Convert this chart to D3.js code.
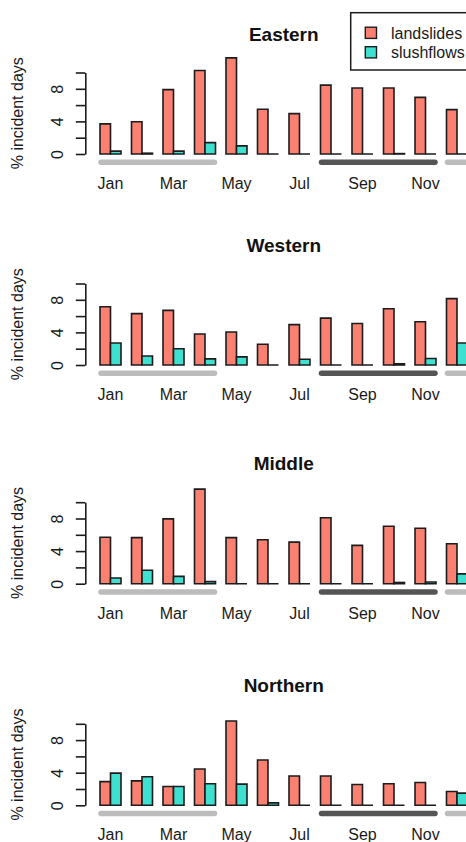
<!DOCTYPE html>
<html>
<head>
<meta charset="utf-8">
<script src="https://cdn.jsdelivr.net/npm/d3@7/dist/d3.min.js"></script>
<style>
  html, body { margin: 0; padding: 0; background: #ffffff; }
  svg { display: block; font-family: "Liberation Sans", Arial, sans-serif; }
</style>
</head>
<body>
<script>
// Monthly share of days with incidents, by region
const months = ["Jan", "Feb", "Mar", "Apr", "May", "Jun", "Jul", "Aug", "Sep", "Oct", "Nov", "Dec"];
const monthTicks = ["Jan", "Mar", "May", "Jul", "Sep", "Nov"];
const yTicks = [0, 2, 4, 6, 8, 10];
const yTickLabels = [0, 4, 8];
const series = ["landslides", "slushflows"];
const regions = ["Eastern", "Western", "Middle", "Northern"];

const easternLandslides = [3.7, 3.95, 7.9, 10.25, 11.8, 5.5, 4.95, 8.45, 8.1, 8.1, 6.95, 5.45];
const easternSlushflows = [0.35, 0.1, 0.35, 1.4, 1.0, 0, 0, 0, 0, 0.05, 0, 0];
const westernLandslides = [7.15, 6.3, 6.7, 3.8, 4.05, 2.55, 4.95, 5.75, 5.1, 6.9, 5.3, 8.15];
const westernSlushflows = [2.7, 1.1, 2.0, 0.75, 1.0, 0, 0.7, 0, 0, 0.15, 0.8, 2.7];
const middleLandslides = [5.7, 5.65, 7.95, 11.6, 5.65, 5.4, 5.1, 8.1, 4.7, 7.05, 6.8, 4.9];
const middleSlushflows = [0.7, 1.65, 0.9, 0.25, 0, 0, 0, 0, 0, 0.15, 0.2, 1.2];
const northernLandslides = [2.9, 3.0, 2.3, 4.45, 10.35, 5.55, 3.6, 3.6, 2.55, 2.65, 2.8, 1.7];
const northernSlushflows = [3.95, 3.5, 2.3, 2.65, 2.6, 0.3, 0, 0, 0, 0, 0, 1.5];

// Seasons marked under the month axis
const seasons = [
  { kind: "winter", first: "Jan", last: "Apr" },
  { kind: "autumn", first: "Aug", last: "Nov" },
  { kind: "winter", first: "Dec", last: "Dec" }
];

const regionValues = {
  Eastern: [easternLandslides, easternSlushflows],
  Western: [westernLandslides, westernSlushflows],
  Middle: [middleLandslides, middleSlushflows],
  Northern: [northernLandslides, northernSlushflows]
};

// ---- styling / layout ----
const W = 466, H = 842;
const seriesColor = { landslides: "#fa8072", slushflows: "#40e0d0" };
const seasonColor = { winter: "#bcbcbc", autumn: "#555555" };
const ink = "#1c1c1c";
const textInk = "#1a1a1a";
const plotLeft = 85.3, plotRight = 482.2;
const baselines = [154, 365, 583.7, 805.3];
const axisHeight = 81.5;

const svg = d3.select("body").append("svg")
  .attr("width", W).attr("height", H)
  .attr("viewBox", `0 0 ${W} ${H}`);

svg.append("rect").attr("width", W).attr("height", H).attr("fill", "#ffffff");

const x = d3.scaleBand()
  .domain(months)
  .range([plotLeft, plotRight])
  .paddingInner(1 / 3)
  .paddingOuter(0.4667);

const xs = d3.scaleBand()
  .domain(series)
  .range([0, x.bandwidth()]);

const plotCenter = (plotLeft + plotRight) / 2;

regions.forEach((region, r) => {
  const y0 = baselines[r];
  const y = d3.scaleLinear().domain([0, 10]).range([y0, y0 - axisHeight]);
  const g = svg.append("g");

  // title
  g.append("text")
    .attr("x", plotCenter)
    .attr("y", y0 - 113.5)
    .attr("text-anchor", "middle")
    .attr("font-size", 19)
    .attr("font-weight", "bold")
    .attr("fill", "#111")
    .text(region);

  // bars
  const rows = [];
  months.forEach((m, i) => {
    series.forEach((s, k) => {
      rows.push({ month: m, series: s, value: regionValues[region][k][i] });
    });
  });

  g.append("g").selectAll("path")
    .data(rows)
    .join("path")
    .attr("d", d => {
      const x0 = x(d.month) + xs(d.series);
      const x1 = x0 + xs.bandwidth();
      return `M${x0},${y(0)}V${y(d.value)}H${x1}V${y(0)}Z`;
    })
    .attr("fill", d => seriesColor[d.series])
    .attr("stroke", ink)
    .attr("stroke-width", 1.6)
    .attr("stroke-linejoin", "miter");

  // y axis
  const axis = d3.axisLeft(y)
    .tickValues(yTicks)
    .tickSize(9.5)
    .tickSizeOuter(0)
    .tickFormat(v => yTickLabels.includes(v) ? d3.format("d")(v) : "");

  const ag = g.append("g")
    .attr("transform", `translate(${plotLeft},0)`)
    .call(axis);
  ag.select(".domain").attr("stroke", ink).attr("stroke-width", 1.6);
  ag.selectAll(".tick line").attr("stroke", ink).attr("stroke-width", 1.6);
  ag.selectAll(".tick text")
    .attr("x", null)
    .attr("dy", null)
    .attr("text-anchor", "middle")
    .attr("transform", "translate(-22.3,0) rotate(-90)")
    .attr("font-size", 16)
    .attr("font-family", "Liberation Sans, Arial, sans-serif")
    .attr("fill", textInk);

  // y label
  g.append("text")
    .attr("transform", `translate(23,${y(5)}) rotate(-90)`)
    .attr("text-anchor", "middle")
    .attr("font-size", 16)
    .attr("fill", textInk)
    .text("% incident days");

  // season strips
  g.append("g").selectAll("line")
    .data(seasons)
    .join("line")
    .attr("x1", d => x(d.first) + 1)
    .attr("x2", d => x(d.last) + x.bandwidth() - 1)
    .attr("y1", y0 + 8.3)
    .attr("y2", y0 + 8.3)
    .attr("stroke", d => seasonColor[d.kind])
    .attr("stroke-width", 5.5)
    .attr("stroke-linecap", "round");

  // month labels
  g.append("g").selectAll("text")
    .data(monthTicks)
    .join("text")
    .attr("x", d => x(d) + x.bandwidth() / 2)
    .attr("y", y0 + 35)
    .attr("text-anchor", "middle")
    .attr("font-size", 16)
    .attr("fill", textInk)
    .text(d => d);
});

// legend (top panel, top-right)
const legend = svg.append("g");
legend.append("rect")
  .attr("x", 350.7).attr("y", 12.7)
  .attr("width", 140).attr("height", 57.3)
  .attr("fill", "#ffffff")
  .attr("stroke", ink).attr("stroke-width", 1.5);

const legendRows = legend.selectAll("g.item")
  .data(series)
  .join("g")
  .attr("class", "item")
  .attr("transform", (d, i) => `translate(0,${i * 19.5})`);

legendRows.append("rect")
  .attr("x", 365.3).attr("y", 27.2)
  .attr("width", 11.2).attr("height", 11.2)
  .attr("fill", d => seriesColor[d])
  .attr("stroke", ink).attr("stroke-width", 1.4);

legendRows.append("text")
  .attr("x", 391)
  .attr("y", 38.8)
  .attr("font-size", 16)
  .attr("fill", textInk)
  .text(d => d);
</script>
</body>
</html>
